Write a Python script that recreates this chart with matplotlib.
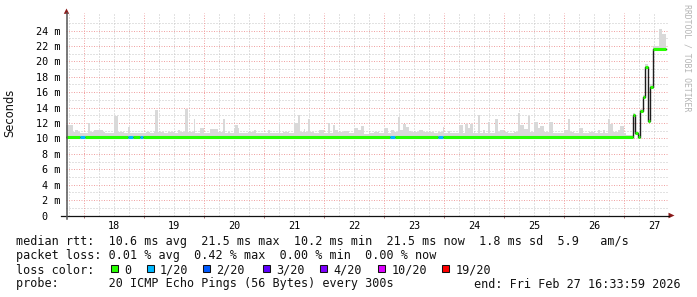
import numpy as np
import matplotlib
matplotlib.use('Agg')
import matplotlib.pyplot as plt
import matplotlib.dates as mdates
from matplotlib.patches import Rectangle, Polygon
from matplotlib.lines import Line2D
from datetime import datetime, timedelta

W, H = 697, 297
MONO = 'DejaVu Sans Mono'

# graph window: 10 days ending at the "end:" time
start = datetime(2026, 2, 17, 16, 33, 59)
span_h = 240

# smoke = highest of the 20 pings, step segments (hours from start, ms)
smoke_t = [0, 3.0, 3.7, 4.8, 5.8, 9.0, 9.7, 11.2, 14.8, 15.7,
           19.4, 21.0, 23.4, 25.0, 25.8, 32.1, 33.8, 35.2, 35.7, 37.0,
           39.4, 41.0, 43.4, 45.0, 45.8, 47.7, 49.0, 51.2, 51.8, 53.8,
           55.2, 57.8, 61.0, 62.8, 63.7, 65.0, 65.8, 67.4, 67.7, 68.8,
           69.4, 72.8, 73.7, 75.4, 76.1, 79.4, 80.8, 81.7, 85.2, 85.8,
           87.0, 89.4, 91.4, 92.8, 93.8, 95.2, 95.7, 97.0, 97.8, 99.2,
           101.4, 103.2, 104.8, 105.7, 106.8, 107.7, 108.8, 111.4, 113.4, 115.4,
           117.0, 118.1, 119.4, 121.4, 123.4, 125.4, 127.4, 129.0, 130.1, 131.2,
           132.8, 133.7, 135.0, 136.1, 137.2, 138.1, 141.4, 143.0, 147.4, 148.8,
           150.8, 151.4, 152.8, 153.8, 157.4, 159.0, 159.7, 161.0, 161.8, 163.0,
           164.8, 165.8, 166.8, 167.7, 169.0, 169.8, 171.7, 173.0, 173.8, 175.4,
           177.0, 179.4, 181.0, 181.8, 183.2, 184.8, 185.8, 187.4, 189.0, 189.8,
           191.2, 193.4, 195.0, 199.4, 200.8, 201.8, 203.2, 205.4, 207.0, 209.4,
           211.4, 212.8, 213.8, 214.8, 215.7, 216.8, 217.8, 219.0, 220.8, 221.8,
           223.2, 224.2, 226.8, 227.8, 228.9, 229.8, 231.0, 231.7, 233.0, 233.8,
           235.0, 237.4, 238.6]
smoke_hi = [11.78, 10.8, 11.08, 10.86, 10.72, 12.04, 10.8, 11.08, 10.8, 10.72,
            12.95, 10.8, 10.68, 11.52, 10.68, 10.86, 10.68, 10.86, 13.69, 10.86,
            10.68, 10.86, 10.72, 11.08, 10.8, 13.82, 10.8, 12.52, 10.68, 11.39,
            10.72, 11.21, 10.8, 12.52, 10.68, 10.86, 10.68, 11.30, 11.73, 11.30,
            10.68, 10.86, 10.8, 11.04, 10.72, 10.68, 11.04, 10.68, 11.95, 10.68,
            10.8, 10.68, 11.95, 13.04, 10.8, 11.21, 10.8, 12.52, 10.8, 10.68,
            11.08, 10.68, 12.04, 10.68, 11.73, 11.08, 10.8, 11.0, 10.68, 11.30,
            11.08, 11.65, 10.55, 10.68, 10.8, 10.68, 11.39, 10.68, 11.04, 10.8,
            12.73, 11.04, 11.91, 11.52, 11.0, 10.8, 11.04, 10.8, 10.68, 10.86,
            11.52, 10.68, 11.0, 10.68, 11.73, 10.68, 11.91, 11.30, 11.91, 10.68,
            13.04, 10.68, 11.08, 10.68, 12.17, 10.72, 12.52, 10.8, 11.08, 10.8,
            10.68, 10.8, 13.25, 11.73, 11.21, 12.95, 10.8, 12.08, 11.39, 11.65,
            10.8, 12.08, 10.68, 11.08, 12.52, 10.8, 10.68, 11.30, 10.68, 10.8,
            10.68, 11.04, 10.68, 11.08, 10.68, 12.52, 11.82, 10.8, 11.08, 11.60,
            10.68, 10.5, 13.25, 10.9, 10.5, 13.8, 15.6, 19.6, 12.5, 17.0,
            22.0, 24.2, 23.5]

# median rtt steps (hours from start, ms) and lost pings out of 20
median_t = [0, 5.8, 7.8, 25.0, 27.0, 29.6, 31.1, 129.8, 131.8, 149.0,
            151.0, 226.8, 227.8, 228.9, 229.8, 231.0, 231.7, 233.0, 233.8, 235.0]
median_ms = [10.25, 10.25, 10.25, 10.25, 10.25, 10.25, 10.25, 10.25, 10.25, 10.25,
             10.25, 13.0, 10.7, 10.25, 13.6, 15.4, 19.3, 12.3, 16.7, 21.6]
median_loss = [0, 1, 0, 1, 0, 1, 0, 1, 0, 1,
               0, 0, 0, 0, 0, 0, 0, 0, 0, 0]

loss_steps = [0, 1, 2, 3, 4, 10, 19]
loss_labels = ['0', '1/20', '2/20', '3/20', '4/20', '10/20', '19/20']
loss_colors = ['#26ff00', '#00b8ff', '#0059ff', '#5e00ff', '#7e00ff', '#dd00ff', '#ff0000']

day_labels = ['18', '19', '20', '21', '22', '23', '24', '25', '26', '27']
yticks = [0, 2, 4, 6, 8, 10, 12, 14, 16, 18, 20, 22, 24]

rtt_line = "median rtt:  10.6 ms avg  21.5 ms max  10.2 ms min  21.5 ms now  1.8 ms sd  5.9   am/s"
loss_line = "packet loss: 0.01 % avg  0.42 % max  0.00 % min  0.00 % now"
probe_line = "probe:       20 ICMP Echo Pings (56 Bytes) every 300s"
end_line = "end: Fri Feb 27 16:33:59 2026"


def fx(px):
    return px / W


def fy(py):
    return 1 - py / H


def hrs(h):
    return mdates.date2num(start) + np.asarray(h, dtype=float) / 24.0


fig = plt.figure(figsize=(W / 100, H / 100), dpi=100)
fig.patch.set_facecolor('white')

# plot area in pixels: x 65.7..668.3, y 215.5 (0) .. 12.8 (26.3 m)
left_px, right_px = 65.7, 668.3
ax = fig.add_axes([fx(left_px), fy(215.5), (right_px - left_px) / W, 202.7 / H])
ax.set_facecolor('white')
ax.set_xlim(hrs(0), hrs(span_h + (right_px - left_px - 600) * 0.4))
ax.set_ylim(0, 26.3)
for s in ax.spines.values():
    s.set_visible(False)

# grid: red dotted at midnight / even ms, grey dotted at 6h / odd ms
midnights = [datetime(2026, 2, 18) + timedelta(days=k) for k in range(10)]
sixes = [datetime(2026, 2, 17, 18) + timedelta(hours=6 * k) for k in range(40)]
sixes = [d for d in sixes if d.hour != 0 and d <= datetime(2026, 2, 27, 12)]
grey = dict(color='#c6c6c6', lw=0.72, ls=(0, (1, 2)), zorder=0)
red = dict(color='#f0a4a4', lw=0.72, ls=(0, (1, 1.5)), zorder=0.5)
for d in sixes:
    ax.axvline(mdates.date2num(d), **grey)
for v in range(1, 26, 2):
    ax.axhline(v, **grey)
for d in midnights:
    ax.axvline(mdates.date2num(d), **red)
for v in yticks[1:]:
    ax.axhline(v, **red)

# smoke between median and highest ping
tt = np.union1d(smoke_t, median_t)
i_s = np.searchsorted(smoke_t, tt, side='right') - 1
i_m = np.searchsorted(median_t, tt, side='right') - 1
lo = np.array(median_ms)[i_m]
hi = np.maximum(np.array(smoke_hi)[i_s], lo)
xs = hrs(np.append(tt, span_h))
ax.fill_between(xs, np.append(lo, lo[-1]), np.append(hi, hi[-1]),
                step='post', color='#d9d9d9', lw=0, zorder=1)

# median: thin dark line, loss coloured thick segments on top
m_edges = hrs(median_t + [span_h])
ax.step(m_edges, median_ms + [median_ms[-1]], where='post',
        color='#1e1e1e', lw=1.0, zorder=2)
seg_cols = [loss_colors[loss_steps.index(n)] for n in median_loss]
ax.hlines(median_ms, m_edges[:-1], m_edges[1:], colors=seg_cols, lw=2.2, zorder=3)

# ticks
ax.set_xticks([mdates.date2num(d) for d in midnights])
ax.set_xticklabels([])
noons = [mdates.date2num(d + timedelta(hours=12)) for d in midnights]
ax.set_xticks(noons, minor=True)
ax.set_xticklabels(day_labels, minor=True, fontfamily=MONO, fontsize=7.3)
ax.tick_params(axis='x', which='major', length=1.5, width=0.7, color='#b07070')
ax.tick_params(axis='x', which='minor', length=0, pad=3.8)
ax.set_yticks(yticks)
ax.set_yticklabels(['0  '] + ['%d m' % v for v in yticks[1:]], fontfamily=MONO, fontsize=7.3)
ax.tick_params(axis='y', length=0, pad=4.0)
ax.set_yticks([], minor=True)

# axis lines with arrows
fig.add_artist(Line2D([fx(61), fx(669)], [fy(215.5), fy(215.5)], color='#111111', lw=0.9))
fig.add_artist(Line2D([fx(66.5), fx(66.5)], [fy(218.5), fy(13)], color='#555555', lw=1.1))
fig.add_artist(Polygon([[fx(674.5), fy(215.5)], [fx(668.5), fy(212.7)], [fx(668.5), fy(218.3)]],
                       closed=True, color='#8b1a1a', lw=0))
fig.add_artist(Polygon([[fx(66.5), fy(8.5)], [fx(63.8), fy(13.8)], [fx(69.2), fy(13.8)]],
                       closed=True, color='#8b1a1a', lw=0))

fig.text(fx(10), fy(113), 'Seconds', rotation=90, ha='center', va='center',
         fontsize=8.3, color='#111111')
fig.text(fx(687.5), fy(4.5), 'RRDTOOL / TOBI OETIKER', rotation=270, ha='center', va='top',
         fontfamily=MONO, fontsize=5.9, color='#b4b4b4')

# legend block
txt = dict(fontfamily=MONO, fontsize=8.5, color='#111111', va='baseline', ha='left')
fig.text(fx(16), fy(245), rtt_line, **txt)
fig.text(fx(16), fy(259.5), loss_line, **txt)
fig.text(fx(16), fy(273.5), 'loss color:', **txt)
fig.text(fx(16), fy(287.5), probe_line, **txt)
fig.text(fx(680.5), fy(287.5), end_line, **dict(txt, ha='right'))

box_x = [110.7, 146.7, 203.3, 262.7, 320.0, 378.3, 442.3]
for bx, col, lab in zip(box_x, loss_colors, loss_labels):
    fig.add_artist(Rectangle((fx(bx), fy(272.3)), 6.8 / W, 7.6 / H,
                             facecolor=col, edgecolor='#111111', lw=0.75))
    fig.text(fx(bx + 13.3), fy(273.5), lab, **txt)

fig.savefig('out.png', dpi=100, facecolor='white')
